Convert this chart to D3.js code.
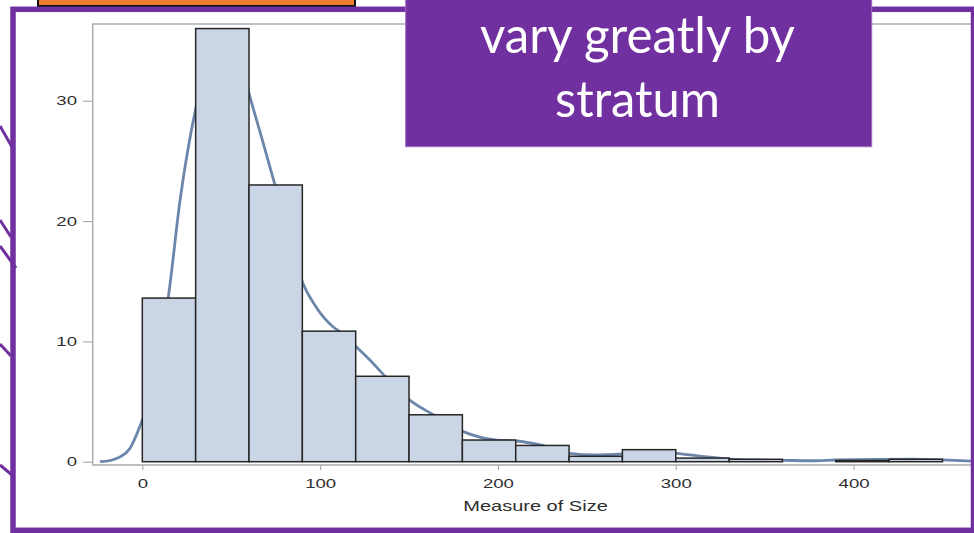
<!DOCTYPE html>
<html><head><meta charset="utf-8">
<script src="https://cdn.jsdelivr.net/npm/d3@7/dist/d3.min.js"></script>
<style>html,body{margin:0;padding:0;background:#fff;overflow:hidden}</style>
</head><body>
<svg id="c" width="974" height="533"></svg>
<script>
// ---- data ----
const binStarts = [0,30,60,90,120,150,180,210,240,270,300,330,360,390,420];
const binWidth = 30;
const percents = [13.6,36,23,10.85,7.1,3.9,1.8,1.35,0.45,1.0,0.3,0.2,0,0.1,0.2];
const kdeX = [-23.8,-18,-12.5,-7,-2,3,8,14.5,21.2,29.7,40,48,55,60.6,67,74.6,82,89.6,98,107.4,111.2,120,128,136.5,150.6,163.7,180.5,199.3,210.6,223.7,240.5,253.5,270,285,300.3,316,331,346,361,376,390,412,434,450,466.6];
const kdeY = [0,0.1,0.4,1.1,2.7,4.8,8.4,13.55,21.7,29.1,34.5,35,33.5,30.3,27,23,19,15.1,12.8,11.2,10.8,9.6,8.45,7.1,5.1,3.9,2.5,1.8,1.72,1.39,0.7,0.56,0.64,0.8,0.7,0.42,0.22,0.14,0.11,0.08,0.14,0.2,0.22,0.15,0.04];
const xTicks = [0,100,200,300,400];
const yTicks = [0,10,20,30];
const xLabel = "Measure of Size";
const calloutLines = ["vary greatly by","stratum"];

const svg = d3.select("#c");
const purple = "#7030A0";

// slide decorations (connector lines on left, orange box)
const deco = [[0,126,12,147],[0,220,11,237],[0,246,16,268],[0,344,11,356],[0,465,12,475]];
svg.selectAll("line.deco").data(deco).join("line")
  .attr("x1",d=>d[0]).attr("y1",d=>d[1]).attr("x2",d=>d[2]).attr("y2",d=>d[3])
  .attr("stroke",purple).attr("stroke-width",3);
svg.append("rect").attr("x",38).attr("y",-5).attr("width",317).attr("height",11)
  .attr("fill","#ED7D31").attr("stroke","#111").attr("stroke-width",2);

// chart
const x = d3.scaleLinear().domain([-27.9,466.6]).range([92.7,972]);
const y = d3.scaleLinear().domain([0,36.38]).range([461.7,24]);

const g = svg.append("g");
// frame
g.append("rect").attr("x",92.7).attr("y",24).attr("width",972-92.7).attr("height",465-24)
  .attr("fill","#fff").attr("stroke","#a9adb2").attr("stroke-width",1.5);

// kde
const line = d3.line().x((d,i)=>x(kdeX[i])).y((d,i)=>y(Math.max(0,kdeY[i]))).curve(d3.curveMonotoneX);
g.append("path").attr("d",line(kdeX)).attr("fill","none").attr("stroke","#6c86ab").attr("stroke-width",2.8);

// bars
g.selectAll("rect.bar").data(binStarts).join("rect").attr("class","bar")
  .attr("x",d=>x(d)).attr("width",d=>x(d+binWidth)-x(d))
  .attr("y",(d,i)=>y(percents[i])).attr("height",(d,i)=>y(0)-y(percents[i]))
  .attr("fill","#cad5e5").attr("stroke","#262626").attr("stroke-width",1.5);

const sx = 1.43;
// y axis
const ya = g.append("g").attr("transform","translate(92.7,0)")
  .call(d3.axisLeft(y).tickValues(yTicks).tickSize(9.7).tickFormat(d3.format("d")));
ya.select(".domain").remove();
ya.selectAll(".tick line").attr("stroke","#a9adb2").attr("stroke-width",1.2);
ya.selectAll(".tick text").attr("x",-15.7/sx).attr("transform",`scale(${sx},1)`)
  .attr("font-family","Liberation Sans, Arial, sans-serif").attr("font-size",13).attr("fill","#2e2e2e");

// x axis
const xa = g.append("g").attr("transform","translate(0,465)")
  .call(d3.axisBottom(x).tickValues(xTicks).tickSize(5).tickFormat(d3.format("d")));
xa.select(".domain").remove();
xa.selectAll(".tick line").attr("stroke","#a9adb2").attr("stroke-width",1.2);
xa.selectAll(".tick text").attr("y",22.7).attr("dy",0).attr("transform",`scale(${sx},1)`)
  .attr("font-family","Liberation Sans, Arial, sans-serif").attr("font-size",13).attr("fill","#2e2e2e");

g.append("text").attr("transform",`translate(535.5,511) scale(${sx},1)`).attr("text-anchor","middle")
  .attr("font-family","Liberation Sans, Arial, sans-serif").attr("font-size",14).attr("fill","#2e2e2e").text(xLabel);

// slide purple frame
svg.append("rect").attr("x",13).attr("y",9.3).attr("width",960.5).attr("height",521)
  .attr("fill","none").attr("stroke",purple).attr("stroke-width",5.5);

// callout box
svg.append("rect").attr("x",405.7).attr("y",-5).attr("width",466).attr("height",151.7)
  .attr("fill",purple).attr("stroke","#9b6cc4").attr("stroke-width",1);
const widths = [315,165];
const bases = [53.3,116.7];
svg.selectAll("text.call").data(calloutLines).join("text").attr("class","call")
  .attr("x",637.5).attr("y",(d,i)=>bases[i]).attr("text-anchor","middle")
  .attr("font-family","Lato, 'Open Sans', sans-serif").attr("font-size",50).attr("fill","#fff")
  .attr("textLength",(d,i)=>widths[i]).attr("lengthAdjust","spacingAndGlyphs").text(d=>d);
</script>
</body></html>
